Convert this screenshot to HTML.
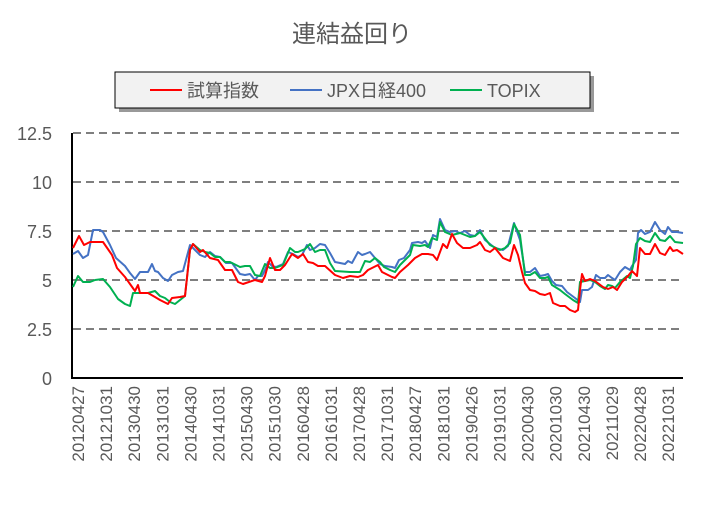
<!DOCTYPE html>
<html><head><meta charset="utf-8"><style>
body{margin:0;background:#fff;}
svg text{font-family:"Liberation Sans","Noto Sans CJK JP",sans-serif;fill:#595959;}
</style></head><body>
<svg width="703" height="505" viewBox="0 0 703 505" xmlns="http://www.w3.org/2000/svg">
<text x="352" y="42" font-size="24" text-anchor="middle">連結益回り</text>
<rect x="119" y="76" width="475" height="36" fill="#999"/>
<rect x="115" y="72" width="475" height="36" fill="#f2f2f2" stroke="#000" stroke-width="1"/>
<line x1="150" y1="90" x2="182" y2="90" stroke="#ff0000" stroke-width="2"/>
<text x="187" y="97" font-size="18">試算指数</text>
<line x1="290" y1="90" x2="322" y2="90" stroke="#4472c4" stroke-width="2"/>
<text x="327" y="97" font-size="18">JPX日経400</text>
<line x1="450" y1="90" x2="482" y2="90" stroke="#00b050" stroke-width="2"/>
<text x="487" y="97" font-size="18">TOPIX</text>
<g stroke="#7f7f7f" stroke-width="2" stroke-dasharray="8,5">
<line x1="73" y1="133" x2="683" y2="133"/>
<line x1="73" y1="182" x2="683" y2="182"/>
<line x1="73" y1="231" x2="683" y2="231"/>
<line x1="73" y1="280" x2="683" y2="280"/>
<line x1="73" y1="329" x2="683" y2="329"/>
</g>
<line x1="72" y1="133" x2="72" y2="379" stroke="#000" stroke-width="2"/>
<line x1="72" y1="378" x2="683" y2="378" stroke="#000" stroke-width="2"/>
<g font-size="18" text-anchor="end">
<text x="52" y="140">12.5</text><text x="52" y="189">10</text><text x="52" y="238">7.5</text><text x="52" y="287">5</text><text x="52" y="336">2.5</text><text x="52" y="385">0</text>
</g>
<g font-size="17" text-anchor="end" id="xl"></g>
<g fill="none" stroke-width="2" stroke-linejoin="round">
<polyline stroke="#4472c4" points="73,254 78,251 83,258 88,255 93,230 100,230 103,232 110,245 116,258 125,266 130,273 135,279 140,272 148,272 152,264 155,271 158,272 163,278 168,281 172,275 178,272 183,271 190,245 195,250 200,255 205,257 210,252 215,256 220,257 226,263 232,263 240,274 245,275 250,274 255,280 258,276 262,276 265,270 268,262 272,266 276,267 283,264 288,252 293,254 298,257 302,255 307,245 310,250 315,248 320,244 325,245 330,253 335,262 340,263 345,264 348,261 352,263 358,252 362,255 365,254 370,252 375,258 380,264 385,266 392,267 395,268 399,260 404,258 410,250 412,243 418,242 422,243 425,241 430,248 433,235 437,237 440,219 445,230 450,232 455,231 460,233 465,231 470,235 475,236 480,230 485,240 490,244 495,248 503,250 508,246 514,223 520,240 525,272 530,272 535,268 540,276 545,275 548,274 552,281 556,285 562,286 567,292 575,298 580,302 582,290 588,290 592,287 596,275 600,278 605,278 608,275 612,278 615,280 620,272 625,267 630,270 632,266 636,260 638,233 641,230 645,234 650,232 655,222 660,230 665,234 668,227 672,232 677,232 683,233"/>
<polyline stroke="#00b050" points="73,287 78,276 83,282 90,282 95,280 103,279 110,287 118,299 125,304 130,306 133,293 140,293 148,293 155,291 160,296 165,298 170,302 175,304 180,300 185,296 190,250 193,244 200,250 205,252 210,253 215,257 220,257 225,262 230,262 240,267 245,266 250,266 255,275 260,276 265,264 270,268 275,268 283,265 290,248 295,252 298,252 305,249 310,244 315,252 320,250 325,250 330,263 335,271 350,272 360,272 365,261 370,262 375,258 380,262 384,267 390,270 395,272 400,265 410,255 413,245 420,246 425,245 428,247 432,238 437,240 440,222 445,232 452,235 460,233 470,237 475,236 480,232 490,245 500,250 505,248 510,243 514,224 520,235 525,275 530,275 535,272 540,278 545,278 548,277 552,285 560,290 565,294 573,300 578,303 580,282 585,281 590,280 595,282 600,286 605,289 608,285 612,286 615,288 620,282 627,276 630,278 633,266 636,244 640,238 645,241 650,242 655,233 660,240 665,241 670,236 675,242 683,243"/>
<polyline stroke="#ff0000" points="73,248 79,236 84,245 90,242 103,242 112,255 117,268 125,277 130,284 135,291 138,285 140,293 148,293 155,297 160,300 168,304 172,298 180,297 185,296 190,250 193,244 200,252 203,250 210,258 218,260 225,270 232,270 238,282 243,284 255,280 262,282 265,276 270,258 275,270 280,270 285,265 292,254 298,258 303,254 308,262 313,263 318,266 325,266 335,275 343,278 350,276 358,277 363,275 368,270 378,265 382,272 392,277 395,278 400,272 408,265 415,258 422,254 428,254 433,255 437,260 443,244 447,248 452,234 457,243 463,248 470,248 477,245 480,242 485,250 490,252 495,248 503,258 510,261 514,245 518,255 522,272 525,283 530,290 535,291 540,294 545,295 550,293 553,303 560,306 565,306 570,310 575,312 578,310 580,290 582,274 585,281 590,279 595,281 603,287 608,289 613,287 617,290 622,282 628,276 632,271 637,276 640,248 645,254 650,254 655,244 660,253 665,255 670,247 673,251 677,250 683,254"/>
</g>
</svg>
<script>
var L=["20120427","20121031","20130430","20131031","20140430","20141031","20150430","20151030","20160428","20161031","20170428","20171031","20180427","20181031","20190426","20191031","20200430","20201030","20210430","20211029","20220428","20221031"];
var g=document.getElementById("xl"),s="";
L.forEach(function(t,i){var x=78+28.1*i+6;s+='<text transform="translate('+x+',386) rotate(-90)">'+t+'</text>';});
g.innerHTML=s;
</script>
</body></html>
